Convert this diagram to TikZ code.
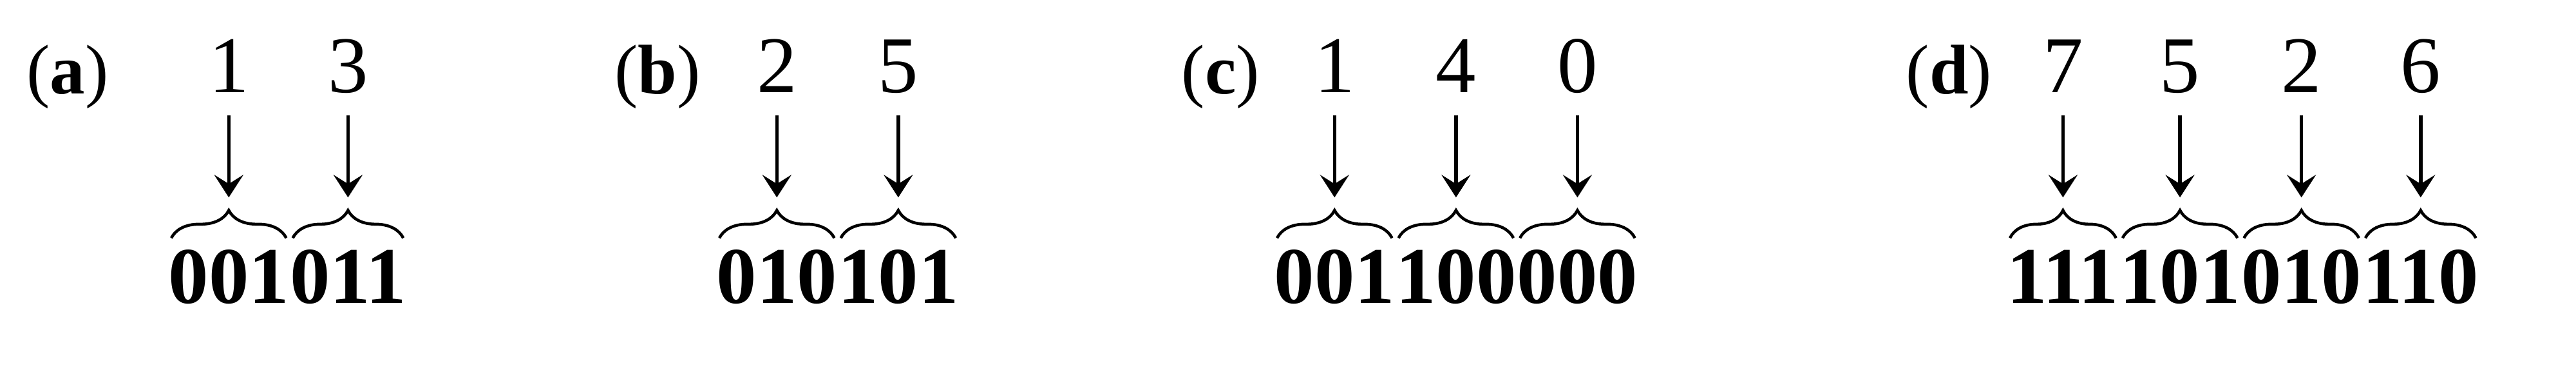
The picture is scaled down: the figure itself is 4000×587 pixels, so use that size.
\documentclass[tikz,border=0pt]{standalone}
\usepackage{fontspec}
\setmainfont{Liberation Serif}
\usetikzlibrary{positioning, arrows.meta, decorations.pathreplacing}

\begin{document}
\begin{tikzpicture}[x=0.1mm, y=-0.1mm,
    panellabel/.style={anchor=base west, inner sep=0pt, font=\fontsize{31}{36}\selectfont},
    bitgroup/.style={inner xsep=0pt, inner ysep=1.5mm, text height=8.5mm, text depth=0pt, font=\bfseries\fontsize{35.5}{40}\selectfont},
    digitval/.style={inner xsep=0pt, inner ysep=3.5mm, text depth=0pt, font=\fontsize{35.5}{40}\selectfont, above=19mm of #1},
    bitarrow/.style={-{Stealth[length=3.5mm, width=4.5mm, inset=1.4mm]}, line width=0.55mm, shorten >=6.3mm},
    groupbrace/.style={decorate, decoration={brace, amplitude=4.3mm}, line width=0.45mm}
  ]
  \useasboundingbox (0,0) rectangle (4000,587);

  % (a) 1 3
  \node [panellabel] (la) at (41,145) {(\textbf{a})};
  \node [bitgroup, anchor=base west] (a1) at (261,470) {001};
  \node [bitgroup, base right=0pt of a1] (a2) {011};
  \node [digitval=a1] (da1) {1};
  \node [digitval=a2] (da2) {3};
  \draw [groupbrace] ([xshift=0.5mm]a1.north west) -- ([xshift=-0.5mm]a1.north east);
  \draw [groupbrace] ([xshift=0.5mm]a2.north west) -- ([xshift=-0.5mm]a2.north east);
  \draw [bitarrow] (da1) -- (a1);
  \draw [bitarrow] (da2) -- (a2);

  % (b) 2 5
  \node [panellabel] (lb) at (954,145) {(\textbf{b})};
  \node [bitgroup, anchor=base west] (b1) at (1112,470) {010};
  \node [bitgroup, base right=0pt of b1] (b2) {101};
  \node [digitval=b1] (db1) {2};
  \node [digitval=b2] (db2) {5};
  \draw [groupbrace] ([xshift=0.5mm]b1.north west) -- ([xshift=-0.5mm]b1.north east);
  \draw [groupbrace] ([xshift=0.5mm]b2.north west) -- ([xshift=-0.5mm]b2.north east);
  \draw [bitarrow] (db1) -- (b1);
  \draw [bitarrow] (db2) -- (b2);

  % (c) 1 4 0
  \node [panellabel] (lc) at (1834,145) {(\textbf{c})};
  \node [bitgroup, anchor=base west] (c1) at (1978,470) {001};
  \node [bitgroup, base right=0pt of c1] (c2) {100};
  \node [bitgroup, base right=0pt of c2] (c3) {000};
  \node [digitval=c1] (dc1) {1};
  \node [digitval=c2] (dc2) {4};
  \node [digitval=c3] (dc3) {0};
  \draw [groupbrace] ([xshift=0.5mm]c1.north west) -- ([xshift=-0.5mm]c1.north east);
  \draw [groupbrace] ([xshift=0.5mm]c2.north west) -- ([xshift=-0.5mm]c2.north east);
  \draw [groupbrace] ([xshift=0.5mm]c3.north west) -- ([xshift=-0.5mm]c3.north east);
  \draw [bitarrow] (dc1) -- (c1);
  \draw [bitarrow] (dc2) -- (c2);
  \draw [bitarrow] (dc3) -- (c3);

  % (d) 7 5 2 6
  \node [panellabel] (ld) at (2959,145) {(\textbf{d})};
  \node [bitgroup, anchor=base west] (d1) at (3116,470) {111};
  \node [bitgroup, base right=0pt of d1] (d2) {101};
  \node [bitgroup, base right=0pt of d2] (d3) {010};
  \node [bitgroup, base right=0pt of d3] (d4) {110};
  \node [digitval=d1] (dd1) {7};
  \node [digitval=d2] (dd2) {5};
  \node [digitval=d3] (dd3) {2};
  \node [digitval=d4] (dd4) {6};
  \draw [groupbrace] ([xshift=0.5mm]d1.north west) -- ([xshift=-0.5mm]d1.north east);
  \draw [groupbrace] ([xshift=0.5mm]d2.north west) -- ([xshift=-0.5mm]d2.north east);
  \draw [groupbrace] ([xshift=0.5mm]d3.north west) -- ([xshift=-0.5mm]d3.north east);
  \draw [groupbrace] ([xshift=0.5mm]d4.north west) -- ([xshift=-0.5mm]d4.north east);
  \draw [bitarrow] (dd1) -- (d1);
  \draw [bitarrow] (dd2) -- (d2);
  \draw [bitarrow] (dd3) -- (d3);
  \draw [bitarrow] (dd4) -- (d4);
\end{tikzpicture}
\end{document}
